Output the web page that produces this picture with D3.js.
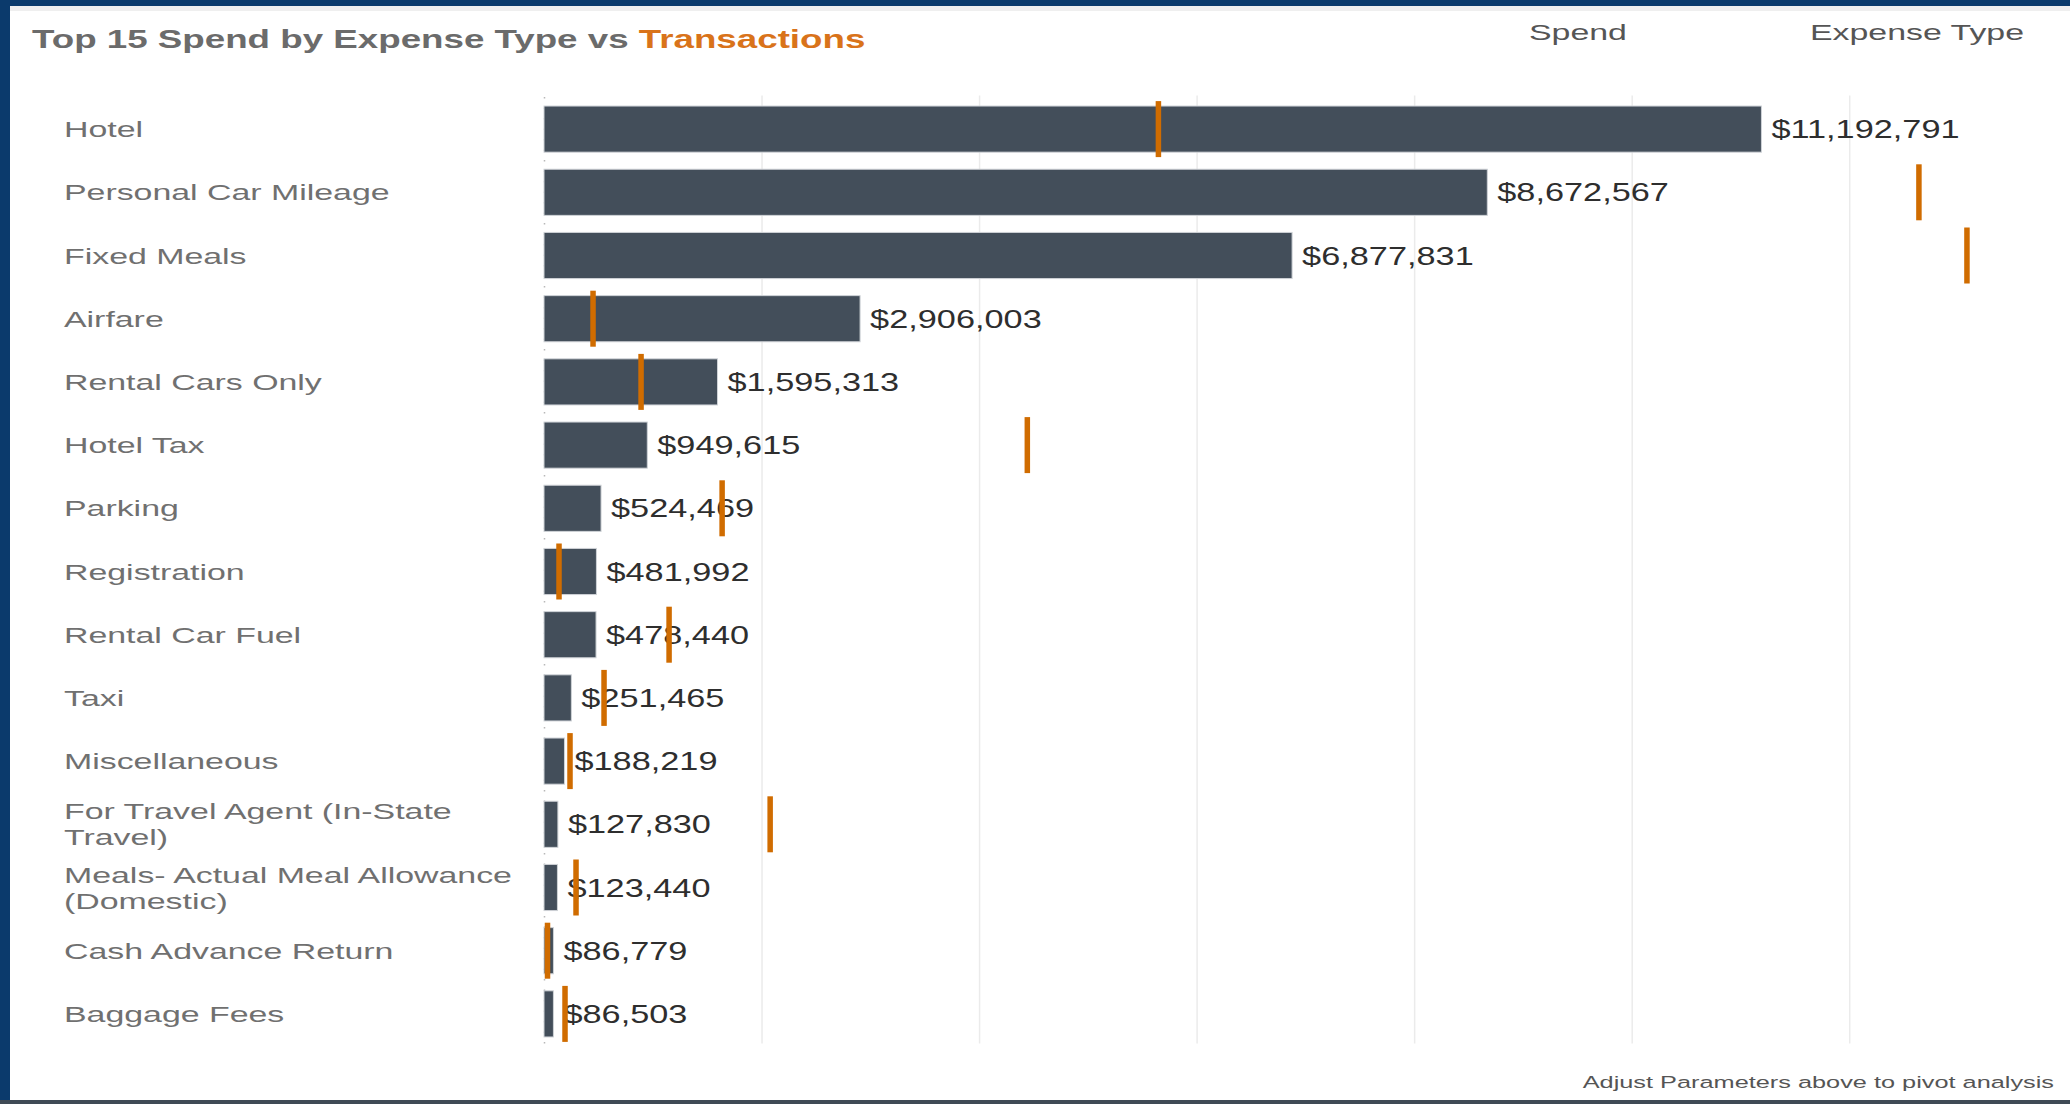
<!DOCTYPE html>
<html>
<head>
<meta charset="utf-8">
<script src="https://cdn.jsdelivr.net/npm/d3@7"></script>
<style>
  html, body { margin: 0; padding: 0; background: #fff; }
  svg { display: block; font-family: "Liberation Sans", Arial, sans-serif; }
</style>
</head>
<body>
<div id="chart"></div>
<script>
// Expense types, ranked by spend
const categories = [
  "Hotel",
  "Personal Car Mileage",
  "Fixed Meals",
  "Airfare",
  "Rental Cars Only",
  "Hotel Tax",
  "Parking",
  "Registration",
  "Rental Car Fuel",
  "Taxi",
  "Miscellaneous",
  "For Travel Agent (In-State Travel)",
  "Meals- Actual Meal Allowance (Domestic)",
  "Cash Advance Return",
  "Baggage Fees"
];

// Total spend per expense type (USD)
const spend = [
  11192791, 8672567, 6877831, 2906003, 1595313, 949615, 524469, 481992,
  478440, 251465, 188219, 127830, 123440, 86779, 86503
];

// Number of transactions per expense type
const transactions = [
  61400, 137400, 142200, 4900, 9700, 48300, 17800, 1500,
  12500, 6000, 2600, 22600, 3200, 350, 2100
];

// Spend gridline positions
const spendTicks = [0, 2000000, 4000000, 6000000, 8000000, 10000000, 12000000];

const W = 2070, H = 1104;
const svg = d3.select("#chart").append("svg")
  .attr("width", W).attr("height", H);

// Frame
svg.append("rect").attr("x", 0).attr("y", 0).attr("width", W).attr("height", H).attr("fill", "#ffffff");
svg.append("rect").attr("x", 10).attr("y", 6).attr("width", W - 10).attr("height", 5).attr("fill", "#efefef");
svg.append("rect").attr("x", 0).attr("y", 0).attr("width", W).attr("height", 6).attr("fill", "#0b3a6c");
svg.append("rect").attr("x", 0).attr("y", 0).attr("width", 10).attr("height", H).attr("fill", "#0b3a6c");
svg.append("rect").attr("x", 0).attr("y", 1100).attr("width", W).attr("height", 4).attr("fill", "#3f4a55");

// Text helper: the dashboard fonts render wide, so glyphs get a horizontal stretch
function stretchedText(sel, x, y, sx) {
  return sel.attr("transform", `translate(${x},${y}) scale(${sx},1)`);
}

// Scales
const plotTop = 97.5, plotBottom = 1045.5;
const x = d3.scaleLinear().domain([0, 13800000]).range([544, 2045]);
const xT = d3.scaleLinear().domain([0, 150000]).range([544, 2045]);
const y = d3.scaleBand().domain(categories).range([plotTop, plotBottom])
  .paddingInner(0.27).paddingOuter(0.135);

// Title and column headers
const title = stretchedText(svg.append("text"), 32, 48, 1.413)
  .attr("font-size", 26).attr("font-weight", "bold").attr("fill", "#6b6b6b");
title.append("tspan").text("Top 15 Spend by Expense Type vs ");
title.append("tspan").attr("fill", "#d9731a").text("Transactions");

stretchedText(svg.append("text"), 1529, 40, 1.54)
  .attr("font-size", 22).attr("fill", "#555").text("Spend");
stretchedText(svg.append("text"), 1810, 40, 1.54)
  .attr("font-size", 22).attr("fill", "#555").text("Expense Type");

// Gridlines
const grid = svg.append("g")
  .attr("transform", `translate(0,${plotBottom - 2})`)
  .call(d3.axisBottom(x).tickValues(spendTicks).tickSize(-(plotBottom - plotTop)).tickFormat(""));
grid.select(".domain").remove();
grid.selectAll(".tick line")
  .attr("stroke", d => d === 0 ? "#b8b8b8" : "#ebebeb")
  .attr("stroke-width", 1.5)
  .attr("stroke-dasharray", d => d === 0 ? "1.5,9" : null);

// Row labels with word wrapping
const labelSx = 1.54, labelMax = 480, lineGap = 26;
const labels = svg.append("g");
categories.forEach(cat => {
  const probe = labels.append("text").attr("font-size", 22);
  const words = cat.split(" ");
  const lines = [];
  let cur = "";
  words.forEach(w => {
    const test = cur ? cur + " " + w : w;
    probe.text(test);
    if (probe.node().getComputedTextLength() * labelSx > labelMax && cur) {
      lines.push(cur);
      cur = w;
    } else {
      cur = test;
    }
  });
  lines.push(cur);
  probe.remove();
  const cy = y(cat) + y.bandwidth() / 2;
  lines.forEach((ln, i) => {
    const off = (i - (lines.length - 1) / 2) * lineGap;
    stretchedText(labels.append("text"), 64, cy + off + 8, labelSx)
      .attr("font-size", 22).attr("fill", "#707070").text(ln);
  });
});

const rows = categories.map((c, i) => ({ cat: c, spend: spend[i], tx: transactions[i] }));

// Spend bars
svg.append("g").selectAll("rect").data(rows).join("rect")
  .attr("x", x(0))
  .attr("y", d => y(d.cat))
  .attr("width", d => x(d.spend) - x(0))
  .attr("height", y.bandwidth())
  .attr("fill", "#434e5a")
  .attr("stroke", "#cfd3d7")
  .attr("stroke-width", 1);

// Spend value labels
const fmt = d3.format("$,");
const vals = svg.append("g");
rows.forEach(d => {
  stretchedText(vals.append("text"), x(d.spend) + 10, y(d.cat) + y.bandwidth() / 2 + 9, 1.345)
    .attr("font-size", 25.5).attr("fill", "#2e2e2e").text(fmt(d.spend));
});

// Transaction markers
svg.append("g").selectAll("rect").data(rows).join("rect")
  .attr("x", d => xT(d.tx) - 2.75)
  .attr("y", d => y(d.cat) + y.bandwidth() / 2 - 28)
  .attr("width", 5.5)
  .attr("height", 56)
  .attr("fill", "#d06c00");

// Footnote
stretchedText(svg.append("text"), 2054, 1088, 1.535)
  .attr("font-size", 16.5).attr("fill", "#555").attr("text-anchor", "end")
  .text("Adjust Parameters above to pivot analysis");
</script>
</body>
</html>
